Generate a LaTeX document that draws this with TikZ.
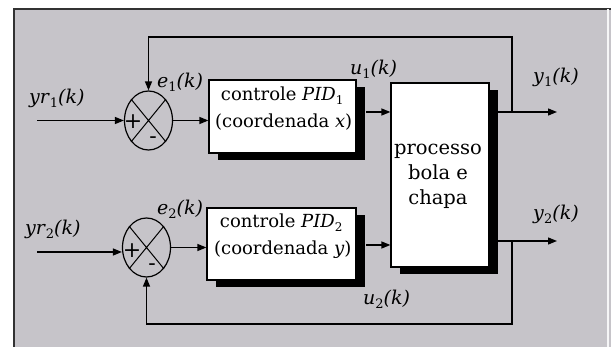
\documentclass[tikz,border=0pt]{standalone}
\usepackage{fontspec}
\setmainfont{DejaVu Serif}
\usetikzlibrary{arrows.meta,shapes.geometric,shadows}
\definecolor{bggray}{RGB}{198,196,201}
\definecolor{edgegray}{RGB}{50,50,50}
\newcommand{\sig}[2]{\textit{#1}\raisebox{-0.35ex}{\fontsize{13}{13}\selectfont #2}\textit{(k)}}
\begin{document}
\begin{tikzpicture}[x=1pt,y=-1pt,
  line/.style={line width=1.3pt},
  arr/.style={line width=1.3pt, -{Triangle[length=9pt,width=7pt]}},
  sumj/.style={ellipse, draw, line width=1.2pt, minimum width=48pt, minimum height=59pt, inner sep=0pt},
  blk/.style={rectangle, draw, line width=1.2pt, fill=white, inner sep=0pt,
    drop shadow={shadow xshift=9pt, shadow yshift=-7pt, fill=black, opacity=1}},
  lab/.style={font=\fontsize{19}{19}\selectfont, inner sep=0pt, anchor=base west},
  boxtxt/.style={font=\fontsize{18}{27}\selectfont, inner sep=0pt, anchor=base west},
  proctxt/.style={font=\fontsize{19.5}{25}\selectfont, inner sep=0pt, anchor=base},
  sign/.style={inner sep=0pt, font=\fontsize{22}{22}\selectfont}]
\useasboundingbox (0,0) rectangle (611,347);
\fill[white] (0,0) rectangle (611,347);
\fill[bggray] (14,9) rectangle (611,347);
\draw[edgegray, line width=1.3pt] (14,347) -- (14,9) -- (611,9);
\draw[white!85!bggray, line width=1.5pt] (608,9) -- (608,347);

% blocks
\node[blk, minimum width=147pt, minimum height=73pt] (pid1) at (282.5,116.5) {};
\node[blk, minimum width=149pt, minimum height=72pt] (pid2) at (281.5,244) {};
\node[blk, minimum width=98pt, minimum height=184pt] (proc) at (440,175) {};

\node[boxtxt] (pid1t) at (215,101) {\begin{tabular}[t]{@{}l@{}}\ controle \textit{PID}\raisebox{-0.35ex}{\fontsize{12}{12}\selectfont 1}\\(coordenada \textit{x})\end{tabular}};
\node[boxtxt] (pid2t) at (214,228) {\begin{tabular}[t]{@{}l@{}}\ controle \textit{PID}\raisebox{-0.35ex}{\fontsize{12}{12}\selectfont 2}\\(coordenada \textit{y})\end{tabular}};
\node[proctxt] (proct) at (438,155) {\begin{tabular}[t]{@{}c@{}}processo\\bola e\\chapa\end{tabular}};

% summing junctions
\node[sumj] (s1) at (148.5,120.5) {};
\draw[line width=1pt] (s1.north west) -- (s1.south east) (s1.north east) -- (s1.south west);
\node[sign] (s1p) at (133,122) {+};
\node[sign] (s1m) at (153,140) {-};
\node[sumj] (s2) at (146.5,247.5) {};
\draw[line width=1pt] (s2.north west) -- (s2.south east) (s2.north east) -- (s2.south west);
\node[sign] (s2p) at (132,251) {+};
\node[sign] (s2m) at (152,267) {-};

% coordinates
\coordinate (in1) at (37,120.5);
\coordinate (in2) at (37,252);
\coordinate (p1o) at (366,112);
\coordinate (p2o) at (366,245);
\coordinate (y1s) at (498,112);
\coordinate (y1e) at (557,112);
\coordinate (y2s) at (498,241);
\coordinate (y2e) at (557,241);
\coordinate (fb1) at (512,112);
\coordinate (fb2) at (512,241);

% connectors
\draw[arr] (in1) -- (s1.west);
\draw[arr] (s1.east) -- (s1.east -| pid1.west);
\draw[arr] (p1o) -- (p1o -| proc.west);
\draw[arr] (y1s) -- (y1e);
\draw[arr] (fb1) -- ++(0,-75) -| (s1.north);

\draw[arr] (in2) -- (in2 -| s2.west);
\draw[arr] (s2.east) -- (s2.east -| pid2.west);
\draw[arr] (p2o) -- (p2o -| proc.west);
\draw[arr] (y2s) -- (y2e);
\draw[arr] (fb2) -- ++(0,83) -| (s2.south);

% labels
\node[lab] (lyr1) at (29,104) {\sig{yr}{1}};
\node[lab] (le1) at (157,88) {\sig{e}{1}};
\node[lab] (lu1) at (350,75) {\sig{u}{1}};
\node[lab] (ly1) at (533,83) {\sig{y}{1}};
\node[lab] (lyr2) at (25,235) {\sig{yr}{2}};
\node[lab] (le2) at (157,215) {\sig{e}{2}};
\node[lab] (lu2) at (363,305) {\sig{u}{2}};
\node[lab] (ly2) at (533,220) {\sig{y}{2}};
\end{tikzpicture}
\end{document}
